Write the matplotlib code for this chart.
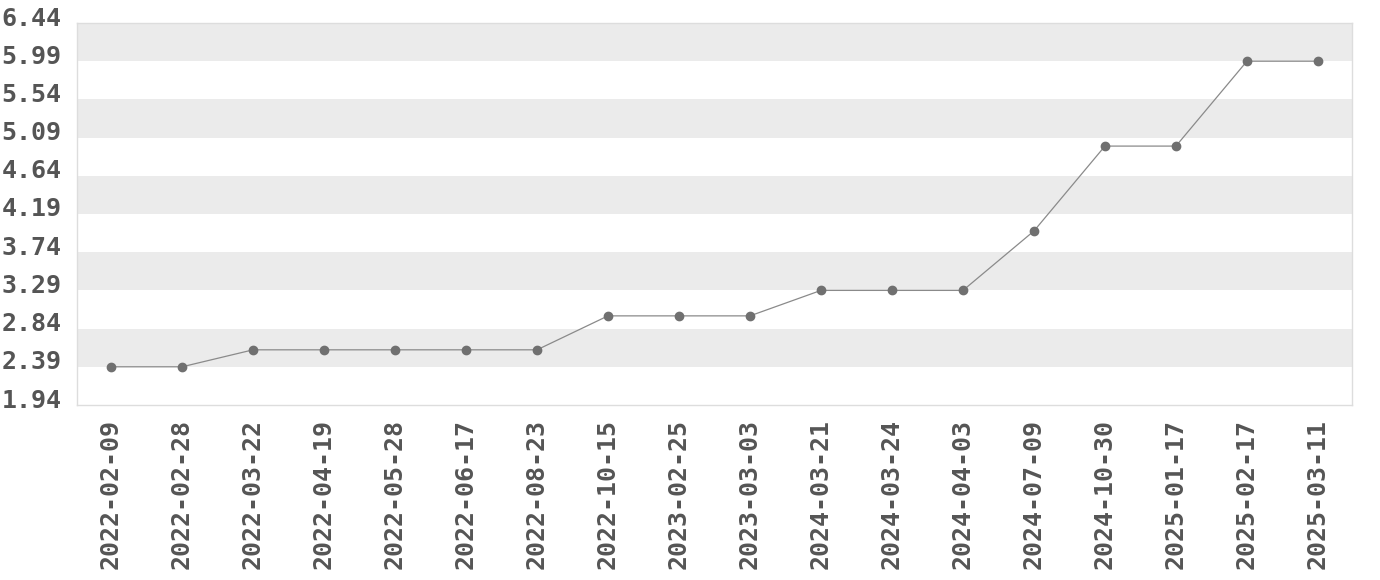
import matplotlib
matplotlib.use("Agg")
import matplotlib.pyplot as plt
import matplotlib.transforms as mtransforms
import numpy as np

# ------------ data ------------
dates = [
    "2022-02-09", "2022-02-28", "2022-03-22", "2022-04-19", "2022-05-28",
    "2022-06-17", "2022-08-23", "2022-10-15", "2023-02-25", "2023-03-03",
    "2024-03-21", "2024-03-24", "2024-04-03", "2024-07-09", "2024-10-30",
    "2025-01-17", "2025-02-17", "2025-03-11",
]
values = [
    2.39, 2.39, 2.59, 2.59, 2.59,
    2.59, 2.59, 2.99, 2.99, 2.99,
    3.29, 3.29, 3.29, 3.99, 4.99,
    4.99, 5.99, 5.99,
]
y_ticks = [1.94, 2.39, 2.84, 3.29, 3.74, 4.19, 4.64, 5.09, 5.54, 5.99, 6.44]

plt.rcParams['font.family'] = ['DejaVu Sans Mono']
plt.rcParams['font.weight'] = 'bold'

fig = plt.figure(figsize=(13.8, 5.8), dpi=100)
ax = fig.add_axes([77 / 1380, 1 - 405 / 580, (1352 - 77) / 1380, (405 - 23) / 580])

# alternating bands, gray from the top down
for i in range(len(y_ticks) - 1):
    lo, hi = y_ticks[i], y_ticks[i + 1]
    if (len(y_ticks) - 2 - i) % 2 == 0:
        ax.axhspan(lo, hi, color="#ebebeb", lw=0, zorder=0)

x = np.arange(len(dates))
ax.plot(x, values, color="#8a8a8a", lw=0.9, marker="o", markersize=6,
        markerfacecolor="#707070", markeredgecolor="#707070", zorder=3)

ax.set_xlim(-0.48, len(dates) - 1 + 0.48)
ax.set_ylim(y_ticks[0], y_ticks[-1])
ax.set_yticks(y_ticks)
ax.set_yticklabels([f"{t:.2f}" for t in y_ticks])
ax.set_xticks(x)
ax.set_xticklabels(dates, rotation=90)

ax.tick_params(axis="both", length=0, labelsize=18, labelcolor="#555555")
ax.tick_params(axis="x", pad=10)
ax.tick_params(axis="y", pad=11)

# y labels sit a little above their gridline
shift = mtransforms.ScaledTranslation(0, 7 / 100, fig.dpi_scale_trans)
for lbl in ax.get_yticklabels():
    lbl.set_transform(lbl.get_transform() + shift)

for s in ax.spines.values():
    s.set_color("#dddddd")
    s.set_linewidth(1)

fig.savefig("out.png", dpi=100)
